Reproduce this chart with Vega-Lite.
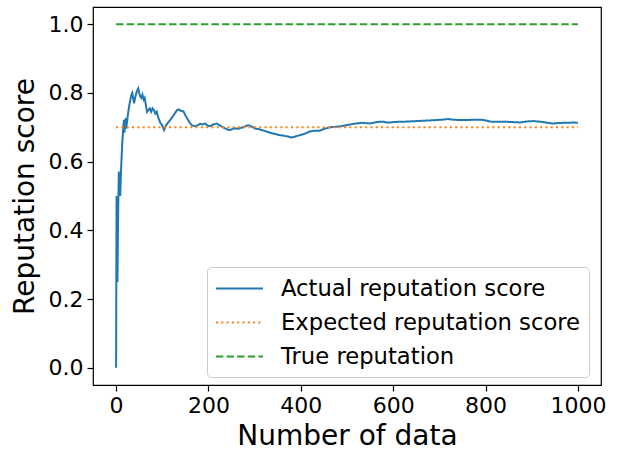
{
  "$schema": "https://vega.github.io/schema/vega-lite/v6.json",
  "width": 508,
  "height": 378,
  "autosize": {"type": "none"},
  "padding": {"left": 93, "top": 7, "right": 17, "bottom": 66},
  "background": "white",
  "config": {
    "font": "DejaVu Sans",
    "view": {"stroke": "black", "strokeWidth": 1.2},
    "axis": {
      "grid": false,
      "domain": false,
      "tickColor": "black",
      "tickSize": 6,
      "tickWidth": 1.2,
      "labelColor": "black",
      "labelFontSize": 22,
      "labelFont": "DejaVu Sans",
      "titleFont": "DejaVu Sans",
      "titleFontSize": 28,
      "titleFontWeight": "normal",
      "titleColor": "black",
      "labelPadding": 4
    },
    "legend": {
      "title": null,
      "orient": "none",
      "legendX": 114,
      "legendY": 260,
      "symbolType": "M-1,0H2.76",
      "symbolStrokeWidth": 2,
      "symbolSize": 625,
      "symbolFillColor": "transparent",
      "labelFontSize": 22.7,
      "labelFont": "DejaVu Sans",
      "labelColor": "black",
      "labelLimit": 0,
      "labelOffset": 39,
      "rowPadding": 8,
      "padding": 8,
      "strokeColor": "#cccccc",
      "cornerRadius": 4,
      "fillColor": "white"
    }
  },
  "data": {
    "values": [
      {"x": 0, "y": 0, "s": "Actual reputation score"},
      {"x": 1, "y": 0.5, "s": "Actual reputation score"},
      {"x": 2, "y": 0.333, "s": "Actual reputation score"},
      {"x": 3, "y": 0.25, "s": "Actual reputation score"},
      {"x": 4, "y": 0.4, "s": "Actual reputation score"},
      {"x": 5, "y": 0.5, "s": "Actual reputation score"},
      {"x": 6, "y": 0.571, "s": "Actual reputation score"},
      {"x": 7, "y": 0.5, "s": "Actual reputation score"},
      {"x": 8, "y": 0.556, "s": "Actual reputation score"},
      {"x": 9, "y": 0.5, "s": "Actual reputation score"},
      {"x": 10, "y": 0.545, "s": "Actual reputation score"},
      {"x": 11, "y": 0.583, "s": "Actual reputation score"},
      {"x": 12, "y": 0.615, "s": "Actual reputation score"},
      {"x": 13, "y": 0.643, "s": "Actual reputation score"},
      {"x": 14, "y": 0.667, "s": "Actual reputation score"},
      {"x": 15, "y": 0.688, "s": "Actual reputation score"},
      {"x": 16, "y": 0.706, "s": "Actual reputation score"},
      {"x": 17, "y": 0.722, "s": "Actual reputation score"},
      {"x": 18, "y": 0.684, "s": "Actual reputation score"},
      {"x": 19, "y": 0.7, "s": "Actual reputation score"},
      {"x": 20, "y": 0.714, "s": "Actual reputation score"},
      {"x": 21, "y": 0.727, "s": "Actual reputation score"},
      {"x": 22, "y": 0.696, "s": "Actual reputation score"},
      {"x": 23, "y": 0.708, "s": "Actual reputation score"},
      {"x": 24, "y": 0.72, "s": "Actual reputation score"},
      {"x": 25, "y": 0.731, "s": "Actual reputation score"},
      {"x": 27, "y": 0.75, "s": "Actual reputation score"},
      {"x": 29, "y": 0.767, "s": "Actual reputation score"},
      {"x": 31, "y": 0.78, "s": "Actual reputation score"},
      {"x": 33, "y": 0.794, "s": "Actual reputation score"},
      {"x": 35, "y": 0.8, "s": "Actual reputation score"},
      {"x": 37, "y": 0.784, "s": "Actual reputation score"},
      {"x": 39, "y": 0.77, "s": "Actual reputation score"},
      {"x": 41, "y": 0.785, "s": "Actual reputation score"},
      {"x": 43, "y": 0.795, "s": "Actual reputation score"},
      {"x": 45, "y": 0.805, "s": "Actual reputation score"},
      {"x": 48, "y": 0.813, "s": "Actual reputation score"},
      {"x": 50, "y": 0.8, "s": "Actual reputation score"},
      {"x": 52, "y": 0.79, "s": "Actual reputation score"},
      {"x": 55, "y": 0.785, "s": "Actual reputation score"},
      {"x": 57, "y": 0.795, "s": "Actual reputation score"},
      {"x": 60, "y": 0.78, "s": "Actual reputation score"},
      {"x": 62, "y": 0.785, "s": "Actual reputation score"},
      {"x": 65, "y": 0.76, "s": "Actual reputation score"},
      {"x": 67, "y": 0.745, "s": "Actual reputation score"},
      {"x": 70, "y": 0.75, "s": "Actual reputation score"},
      {"x": 73, "y": 0.755, "s": "Actual reputation score"},
      {"x": 76, "y": 0.745, "s": "Actual reputation score"},
      {"x": 79, "y": 0.755, "s": "Actual reputation score"},
      {"x": 82, "y": 0.75, "s": "Actual reputation score"},
      {"x": 85, "y": 0.74, "s": "Actual reputation score"},
      {"x": 88, "y": 0.745, "s": "Actual reputation score"},
      {"x": 91, "y": 0.73, "s": "Actual reputation score"},
      {"x": 95, "y": 0.715, "s": "Actual reputation score"},
      {"x": 100, "y": 0.705, "s": "Actual reputation score"},
      {"x": 104, "y": 0.692, "s": "Actual reputation score"},
      {"x": 108, "y": 0.705, "s": "Actual reputation score"},
      {"x": 112, "y": 0.713, "s": "Actual reputation score"},
      {"x": 117, "y": 0.721, "s": "Actual reputation score"},
      {"x": 122, "y": 0.73, "s": "Actual reputation score"},
      {"x": 127, "y": 0.74, "s": "Actual reputation score"},
      {"x": 132, "y": 0.75, "s": "Actual reputation score"},
      {"x": 136, "y": 0.752, "s": "Actual reputation score"},
      {"x": 140, "y": 0.748, "s": "Actual reputation score"},
      {"x": 146, "y": 0.746, "s": "Actual reputation score"},
      {"x": 150, "y": 0.735, "s": "Actual reputation score"},
      {"x": 156, "y": 0.721, "s": "Actual reputation score"},
      {"x": 160, "y": 0.712, "s": "Actual reputation score"},
      {"x": 165, "y": 0.705, "s": "Actual reputation score"},
      {"x": 171, "y": 0.703, "s": "Actual reputation score"},
      {"x": 177, "y": 0.706, "s": "Actual reputation score"},
      {"x": 182, "y": 0.71, "s": "Actual reputation score"},
      {"x": 187, "y": 0.708, "s": "Actual reputation score"},
      {"x": 192, "y": 0.711, "s": "Actual reputation score"},
      {"x": 198, "y": 0.705, "s": "Actual reputation score"},
      {"x": 203, "y": 0.703, "s": "Actual reputation score"},
      {"x": 210, "y": 0.708, "s": "Actual reputation score"},
      {"x": 218, "y": 0.711, "s": "Actual reputation score"},
      {"x": 225, "y": 0.705, "s": "Actual reputation score"},
      {"x": 232, "y": 0.7, "s": "Actual reputation score"},
      {"x": 240, "y": 0.694, "s": "Actual reputation score"},
      {"x": 247, "y": 0.692, "s": "Actual reputation score"},
      {"x": 255, "y": 0.697, "s": "Actual reputation score"},
      {"x": 265, "y": 0.696, "s": "Actual reputation score"},
      {"x": 275, "y": 0.7, "s": "Actual reputation score"},
      {"x": 286, "y": 0.706, "s": "Actual reputation score"},
      {"x": 294, "y": 0.702, "s": "Actual reputation score"},
      {"x": 301, "y": 0.696, "s": "Actual reputation score"},
      {"x": 308, "y": 0.695, "s": "Actual reputation score"},
      {"x": 315, "y": 0.692, "s": "Actual reputation score"},
      {"x": 325, "y": 0.688, "s": "Actual reputation score"},
      {"x": 333, "y": 0.684, "s": "Actual reputation score"},
      {"x": 345, "y": 0.68, "s": "Actual reputation score"},
      {"x": 355, "y": 0.677, "s": "Actual reputation score"},
      {"x": 365, "y": 0.675, "s": "Actual reputation score"},
      {"x": 372, "y": 0.673, "s": "Actual reputation score"},
      {"x": 380, "y": 0.67, "s": "Actual reputation score"},
      {"x": 390, "y": 0.674, "s": "Actual reputation score"},
      {"x": 398, "y": 0.677, "s": "Actual reputation score"},
      {"x": 410, "y": 0.682, "s": "Actual reputation score"},
      {"x": 420, "y": 0.688, "s": "Actual reputation score"},
      {"x": 430, "y": 0.69, "s": "Actual reputation score"},
      {"x": 441, "y": 0.69, "s": "Actual reputation score"},
      {"x": 450, "y": 0.695, "s": "Actual reputation score"},
      {"x": 460, "y": 0.699, "s": "Actual reputation score"},
      {"x": 470, "y": 0.701, "s": "Actual reputation score"},
      {"x": 481, "y": 0.702, "s": "Actual reputation score"},
      {"x": 490, "y": 0.704, "s": "Actual reputation score"},
      {"x": 499, "y": 0.706, "s": "Actual reputation score"},
      {"x": 510, "y": 0.709, "s": "Actual reputation score"},
      {"x": 520, "y": 0.711, "s": "Actual reputation score"},
      {"x": 532, "y": 0.713, "s": "Actual reputation score"},
      {"x": 541, "y": 0.712, "s": "Actual reputation score"},
      {"x": 550, "y": 0.711, "s": "Actual reputation score"},
      {"x": 560, "y": 0.714, "s": "Actual reputation score"},
      {"x": 570, "y": 0.716, "s": "Actual reputation score"},
      {"x": 578, "y": 0.716, "s": "Actual reputation score"},
      {"x": 586, "y": 0.714, "s": "Actual reputation score"},
      {"x": 593, "y": 0.714, "s": "Actual reputation score"},
      {"x": 600, "y": 0.715, "s": "Actual reputation score"},
      {"x": 610, "y": 0.716, "s": "Actual reputation score"},
      {"x": 622, "y": 0.716, "s": "Actual reputation score"},
      {"x": 635, "y": 0.717, "s": "Actual reputation score"},
      {"x": 650, "y": 0.718, "s": "Actual reputation score"},
      {"x": 665, "y": 0.719, "s": "Actual reputation score"},
      {"x": 680, "y": 0.72, "s": "Actual reputation score"},
      {"x": 693, "y": 0.721, "s": "Actual reputation score"},
      {"x": 705, "y": 0.722, "s": "Actual reputation score"},
      {"x": 719, "y": 0.724, "s": "Actual reputation score"},
      {"x": 730, "y": 0.722, "s": "Actual reputation score"},
      {"x": 744, "y": 0.721, "s": "Actual reputation score"},
      {"x": 760, "y": 0.721, "s": "Actual reputation score"},
      {"x": 775, "y": 0.722, "s": "Actual reputation score"},
      {"x": 791, "y": 0.722, "s": "Actual reputation score"},
      {"x": 800, "y": 0.72, "s": "Actual reputation score"},
      {"x": 813, "y": 0.716, "s": "Actual reputation score"},
      {"x": 830, "y": 0.716, "s": "Actual reputation score"},
      {"x": 845, "y": 0.716, "s": "Actual reputation score"},
      {"x": 860, "y": 0.715, "s": "Actual reputation score"},
      {"x": 875, "y": 0.714, "s": "Actual reputation score"},
      {"x": 890, "y": 0.717, "s": "Actual reputation score"},
      {"x": 904, "y": 0.718, "s": "Actual reputation score"},
      {"x": 920, "y": 0.716, "s": "Actual reputation score"},
      {"x": 935, "y": 0.713, "s": "Actual reputation score"},
      {"x": 944, "y": 0.711, "s": "Actual reputation score"},
      {"x": 955, "y": 0.712, "s": "Actual reputation score"},
      {"x": 968, "y": 0.713, "s": "Actual reputation score"},
      {"x": 980, "y": 0.713, "s": "Actual reputation score"},
      {"x": 990, "y": 0.714, "s": "Actual reputation score"},
      {"x": 1000, "y": 0.713, "s": "Actual reputation score"},
      {"x": 0, "y": 0.7, "s": "Expected reputation score"},
      {"x": 1000, "y": 0.7, "s": "Expected reputation score"},
      {"x": 0, "y": 1.0, "s": "True reputation"},
      {"x": 1000, "y": 1.0, "s": "True reputation"}
    ]
  },
  "mark": {"type": "line", "strokeWidth": 2, "clip": true},
  "encoding": {
    "x": {
      "field": "x",
      "type": "quantitative",
      "title": "Number of data",
      "scale": {"domain": [-50, 1050], "nice": false, "zero": false},
      "axis": {"values": [0, 200, 400, 600, 800, 1000], "format": "d", "titlePadding": 6}
    },
    "y": {
      "field": "y",
      "type": "quantitative",
      "title": "Reputation score",
      "scale": {"domain": [-0.05, 1.05], "nice": false, "zero": false},
      "axis": {"values": [0, 0.2, 0.4, 0.6, 0.8, 1.0], "format": ".1f", "titlePadding": 9}
    },
    "color": {
      "field": "s",
      "type": "nominal",
      "scale": {
        "domain": ["Actual reputation score", "Expected reputation score", "True reputation"],
        "range": ["#1f77b4", "#ff7f0e", "#2ca02c"]
      },
      "legend": {"title": null}
    },
    "strokeDash": {
      "field": "s",
      "type": "nominal",
      "scale": {
        "domain": ["Actual reputation score", "Expected reputation score", "True reputation"],
        "range": [[1, 0], [2, 3.3], [7.4, 3.2]]
      },
      "legend": {"title": null}
    }
  }
}
